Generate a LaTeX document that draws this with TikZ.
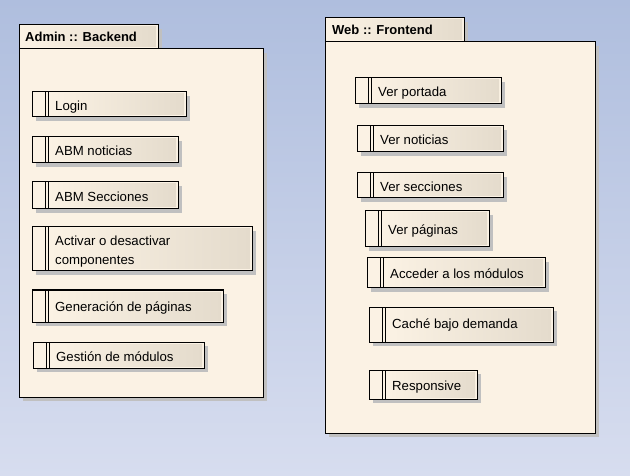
\documentclass[tikz,border=0pt]{standalone}
\usepackage{fontspec}
\setmainfont{Liberation Sans}
\usetikzlibrary{shadows}
\definecolor{cream}{RGB}{251,242,228}
\definecolor{tan}{RGB}{228,219,204}
\definecolor{shadowc}{RGB}{192,192,192}
\definecolor{bgtop}{RGB}{175,190,222}
\definecolor{bgbot}{RGB}{215,221,239}
\tikzset{
  boxbase/.style={draw=black, line width=1bp, fill=cream, inner sep=0pt, outer sep=0pt,
    anchor=north west,
    general shadow={shadow xshift=4bp, shadow yshift=-4bp, fill=shadowc, opacity=1}},
  uctext/.style={anchor=base west, inner sep=0pt, align=left,
    font=\fontsize{13.2bp}{18bp}\selectfont},
  pkgtitle/.style={anchor=base west, inner sep=0pt,
    font=\fontsize{13bp}{16bp}\selectfont\bfseries},
  barline/.style={line width=1bp, draw=black},
}
\newcommand\ucitem[7][6bp]{% baseline offset, name, x1,y1,x2,y2, text
  \node[boxbase, minimum width={(#5-#3)*1bp}, minimum height={(#6-#4)*1bp}] (#2) at (#3,#4) {};
  \shade[left color=cream, right color=tan]
    ([xshift=17bp,yshift=-2bp]#2.north west) rectangle ([xshift=-2bp,yshift=2bp]#2.south east);
  \draw[barline] ([xshift=13bp]#2.north west) -- ([xshift=13bp]#2.south west);
  \draw[barline] ([xshift=16bp]#2.north west) -- ([xshift=16bp]#2.south west);
  \node[uctext] (#2-t) at ([xshift=23bp,yshift=-#1]#2.west) {#7};
}
\newcommand\pkgbox[9]{% name, tab x1,y1,x2,y2, body x2,y2, title, text offset
  \node[boxbase, minimum width={(#4-#2)*1bp}, minimum height={(#5-#3)*1bp}] (#1-tab) at (#2,#3) {};
  \shade[left color=cream, right color=tan]
    ([xshift=2bp,yshift=-2bp]#1-tab.north west) rectangle ([xshift=-2bp,yshift=2bp]#1-tab.south east);
  \node[pkgtitle] (#1-title) at ([xshift=#9,yshift=-5bp]#1-tab.west) {#8};
  \node[boxbase, minimum width={(#6-#2)*1bp}, minimum height={(#7-#5)*1bp}] (#1-body) at (#2,#5) {};
}
\begin{document}
\begin{tikzpicture}[x=1bp, y=-1bp]
\useasboundingbox (0,0) rectangle (630,476);
\shade[top color=bgtop, bottom color=bgbot] (0,0) rectangle (630,476);

% Admin :: Backend
\pkgbox{admin}{19}{25}{158}{49}{263}{397}{Admin :: Backend}{6bp}
\ucitem{login}{32}{92}{186}{117}{Login}
\ucitem{abmnot}{32}{137}{178}{163}{ABM noticias}
\ucitem{abmsec}{32}{182}{178}{209}{ABM Secciones}
\ucitem[15bp]{activar}{32}{227}{252}{271}{Activar o desactivar\\componentes}
\ucitem{genera}{32}{290}{223}{322}{Generación de páginas}
\ucitem{gestion}{33}{342}{204}{368}{Gestión de módulos}

% Web :: Frontend
\pkgbox{web}{325}{18}{464}{42}{595}{433}{Web :: Frontend}{7bp}
\ucitem{portada}{355}{78}{501}{104}{Ver portada}
\ucitem{vernot}{357}{126}{503}{152}{Ver noticias}
\ucitem{versec}{357}{173}{503}{198}{Ver secciones}
\ucitem{verpag}{365}{211}{489}{247}{Ver páginas}
\ucitem{acceder}{367}{258}{545}{288}{Acceder a los módulos}
\ucitem[4bp]{cache}{369}{307}{553}{342}{Caché bajo demanda}
\ucitem{resp}{369}{370}{477}{399}{Responsive}
\end{tikzpicture}
\end{document}
